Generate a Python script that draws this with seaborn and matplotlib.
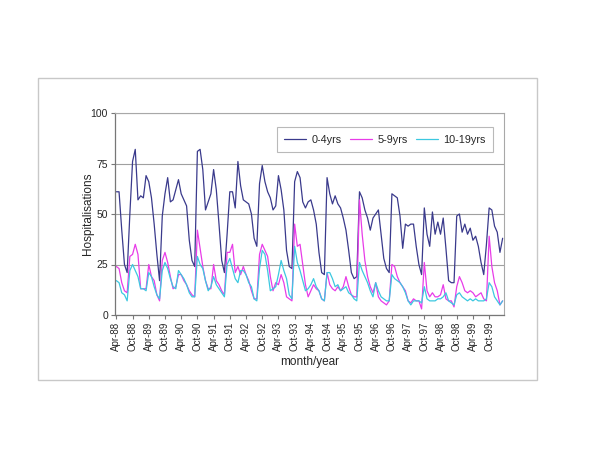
import pandas as pd
import matplotlib.pyplot as plt
import seaborn as sns
from matplotlib.patches import Rectangle

# monthly hospitalisations, Apr-88 .. Mar-00 (one row = Apr..Mar)
age_0_4 = [
    61, 61, 42, 25, 21, 50, 76, 82, 57, 59, 58, 69,
    66, 58, 45, 30, 17, 49, 60, 68, 56, 57, 62, 67,
    60, 57, 54, 37, 27, 24, 81, 82, 72, 52, 56, 60,
    72, 62, 45, 27, 21, 40, 61, 61, 53, 76, 64, 57,
    56, 55, 50, 38, 34, 65, 74, 66, 61, 58, 52, 54,
    69, 62, 52, 32, 24, 23, 66, 71, 68, 56, 53, 56,
    57, 52, 45, 31, 21, 20, 68, 60, 55, 59, 55, 53,
    48, 42, 32, 21, 18, 19, 61, 58, 52, 48, 42, 48,
    50, 52, 40, 28, 23, 21, 60, 59, 58, 49, 33, 45,
    44, 45, 45, 34, 25, 20, 53, 40, 34, 51, 40, 46,
    40, 48, 33, 17, 16, 16, 49, 50, 41, 45, 40, 43,
    37, 39, 34, 26, 20, 35, 53, 52, 44, 41, 31, 38,
]
age_5_9 = [
    24, 23, 16, 12, 11, 29, 30, 35, 30, 13, 13, 13,
    25, 19, 17, 10, 7, 27, 31, 26, 19, 13, 14, 20,
    20, 17, 15, 12, 10, 9, 42, 33, 24, 17, 13, 13,
    25, 17, 15, 12, 10, 31, 31, 35, 21, 24, 20, 24,
    20, 17, 12, 8, 8, 30, 35, 32, 29, 19, 12, 16,
    15, 20, 16, 9, 8, 7, 45, 34, 35, 25, 15, 9,
    12, 15, 13, 12, 8, 7, 21, 15, 13, 12, 14, 12,
    14, 19, 14, 10, 9, 9, 57, 40, 27, 19, 14, 11,
    16, 9, 7, 6, 5, 7, 25, 24, 19, 16, 14, 12,
    7, 6, 8, 7, 7, 3, 26, 12, 9, 11, 9, 9,
    10, 15, 8, 7, 7, 4, 14, 19, 16, 12, 11, 12,
    11, 9, 10, 11, 8, 7, 39, 24, 16, 12, 5, 7,
]
age_10_19 = [
    17, 16, 11, 10, 7, 22, 25, 22, 19, 13, 13, 12,
    21, 19, 14, 10, 8, 22, 26, 23, 18, 14, 13, 22,
    20, 18, 15, 11, 9, 9, 29, 25, 23, 17, 12, 14,
    19, 15, 13, 11, 9, 25, 28, 23, 18, 16, 22, 22,
    20, 16, 14, 8, 7, 23, 32, 30, 22, 12, 13, 14,
    20, 27, 22, 18, 10, 8, 34, 26, 22, 17, 12, 13,
    15, 18, 14, 12, 8, 7, 21, 21, 18, 14, 15, 12,
    13, 14, 11, 10, 8, 7, 26, 22, 19, 16, 12, 9,
    16, 12, 9, 8, 7, 7, 20, 18, 17, 16, 14, 11,
    7, 5, 7, 7, 7, 6, 14, 8, 7, 7, 7, 8,
    8, 9, 11, 7, 6, 5, 10, 11, 9, 8, 7, 8,
    7, 8, 7, 7, 7, 8, 16, 14, 9, 7, 5, 7,
]
series_names = ["0-4yrs", "5-9yrs", "10-19yrs"]
tick_labels = ["Apr-88", "Oct-88", "Apr-89", "Oct-89", "Apr-90", "Oct-90",
               "Apr-91", "Oct-91", "Apr-92", "Oct-92", "Apr-93", "Oct-93",
               "Apr-94", "Oct-94", "Apr-95", "Oct-95", "Apr-96", "Oct-96",
               "Apr-97", "Oct-97", "Apr-98", "Oct-98", "Apr-99", "Oct-99"]
colors = ["#3a3a8c", "#e83ce8", "#3cc8e0"]

months = pd.date_range("1988-04-01", periods=len(age_0_4), freq="MS").strftime("%b-%y")
df = pd.DataFrame({"idx": range(len(months)), "month": months,
                   "0-4yrs": age_0_4, "5-9yrs": age_5_9, "10-19yrs": age_10_19})
long_df = df.melt(id_vars=["idx", "month"], value_vars=series_names,
                  var_name="series", value_name="value")

sns.set_theme(style="white")
plt.rcParams['font.family'] = ['Liberation Sans', 'DejaVu Sans']

fig = plt.figure(figsize=(6, 4.63), dpi=100)
ax = fig.add_axes([115 / 600, 1 - 315 / 463, 389 / 600, 202 / 463])

sns.lineplot(data=long_df, x="idx", y="value", hue="series", hue_order=series_names,
             palette=colors, linewidth=0.9, ax=ax, legend=False)

ax.set_xlim(-0.5, len(months) - 0.5)
ax.set_ylim(0, 100)
ax.set_yticks([0, 25, 50, 75, 100])
ax.set_yticklabels(["0", "25", "50", "75", "100"], fontsize=7.5)
ax.set_xticks(range(0, len(months), 6))
ax.set_xticklabels(tick_labels, rotation=90, fontsize=7)
ax.grid(axis="y", color="#a0a0a0", linewidth=0.8)
ax.grid(axis="x", visible=False)
ax.tick_params(axis="both", direction="out", length=3, width=0.8, color="#777777",
               bottom=True, left=True, pad=2)

for side in ["left", "bottom"]:
    ax.spines[side].set_color("#777777")
    ax.spines[side].set_linewidth(0.9)
for side in ["top", "right"]:
    ax.spines[side].set_color("#a8a8a8")
    ax.spines[side].set_linewidth(0.8)

ax.set_xlabel("month/year", fontsize=8.5)
ax.xaxis.set_label_coords(0.5, -0.233)
ax.xaxis.label.set_va("center")
ax.set_ylabel("Hospitalisations", fontsize=8.5)
ax.yaxis.set_label_coords(-0.069, 0.5)
ax.yaxis.label.set_va("center")

leg = ax.legend(ax.lines[:3], series_names, ncol=3, loc="upper right",
                bbox_to_anchor=(0.972, 0.93), borderaxespad=0, fontsize=7.8,
                frameon=True, fancybox=False, handlelength=2.0, handletextpad=0.5,
                columnspacing=0.8, borderpad=0.7)
leg.get_frame().set_edgecolor("#a8a8a8")
leg.get_frame().set_linewidth(0.8)

# outer chart border
fig.patches.append(Rectangle((38 / 600, 1 - 380 / 463), 499 / 600, 302 / 463,
                             transform=fig.transFigure, fill=False,
                             edgecolor="#c8c8c8", linewidth=1))

plt.savefig("out.png", dpi=100)
plt.close()
